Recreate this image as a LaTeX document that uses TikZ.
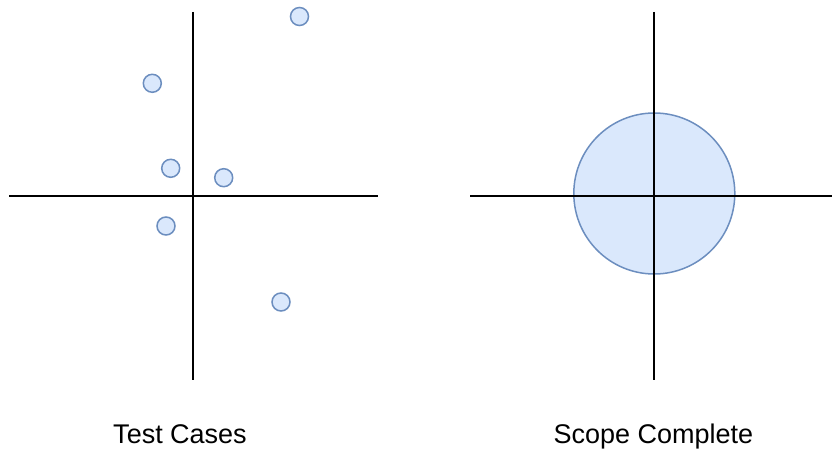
\documentclass[tikz,border=0pt]{standalone}
\usepackage{fontspec}
\setmainfont{Liberation Sans}
\definecolor{dotfill}{HTML}{DAE8FC}
\definecolor{dotline}{HTML}{6C8EBF}
\tikzset{
	axis/.style = {line width=2pt, black},
	testcase/.style = {circle, draw = dotline, fill = dotfill, line width=1.5pt, minimum size=18pt, inner sep=0pt},
	scopearea/.style = {testcase, minimum size=161pt},
	caption/.style = {anchor = base, font=\fontsize{27}{32}\selectfont}
}
\begin{document}
\begin{tikzpicture}[x=1pt, y=-1pt]
\useasboundingbox (0,0) rectangle (832,454);
% left: scattered test cases
\foreach \x / \y [count=\i] in {299.5/16.5, 152.3/83.3, 170.7/168.3, 223.7/177.7, 166/226, 281/302}
	\node[testcase] (case\i) at (\x,\y) {};
\draw[axis] (193.3,12) -- (193.3,380);
\draw[axis] (9,195.7) -- (378,195.7);
\node[caption] (cases) at (180,443.5) {Test Cases};
% right: whole region covered
\node[scopearea] (scope) at (654.3,193.5) {};
\draw[axis] (654.3,12) -- (654.3,380);
\draw[axis] (470,195.7) -- (832,195.7);
\node[caption] (complete) at (653.3,443.5) {Scope Complete};
\end{tikzpicture}
\end{document}
